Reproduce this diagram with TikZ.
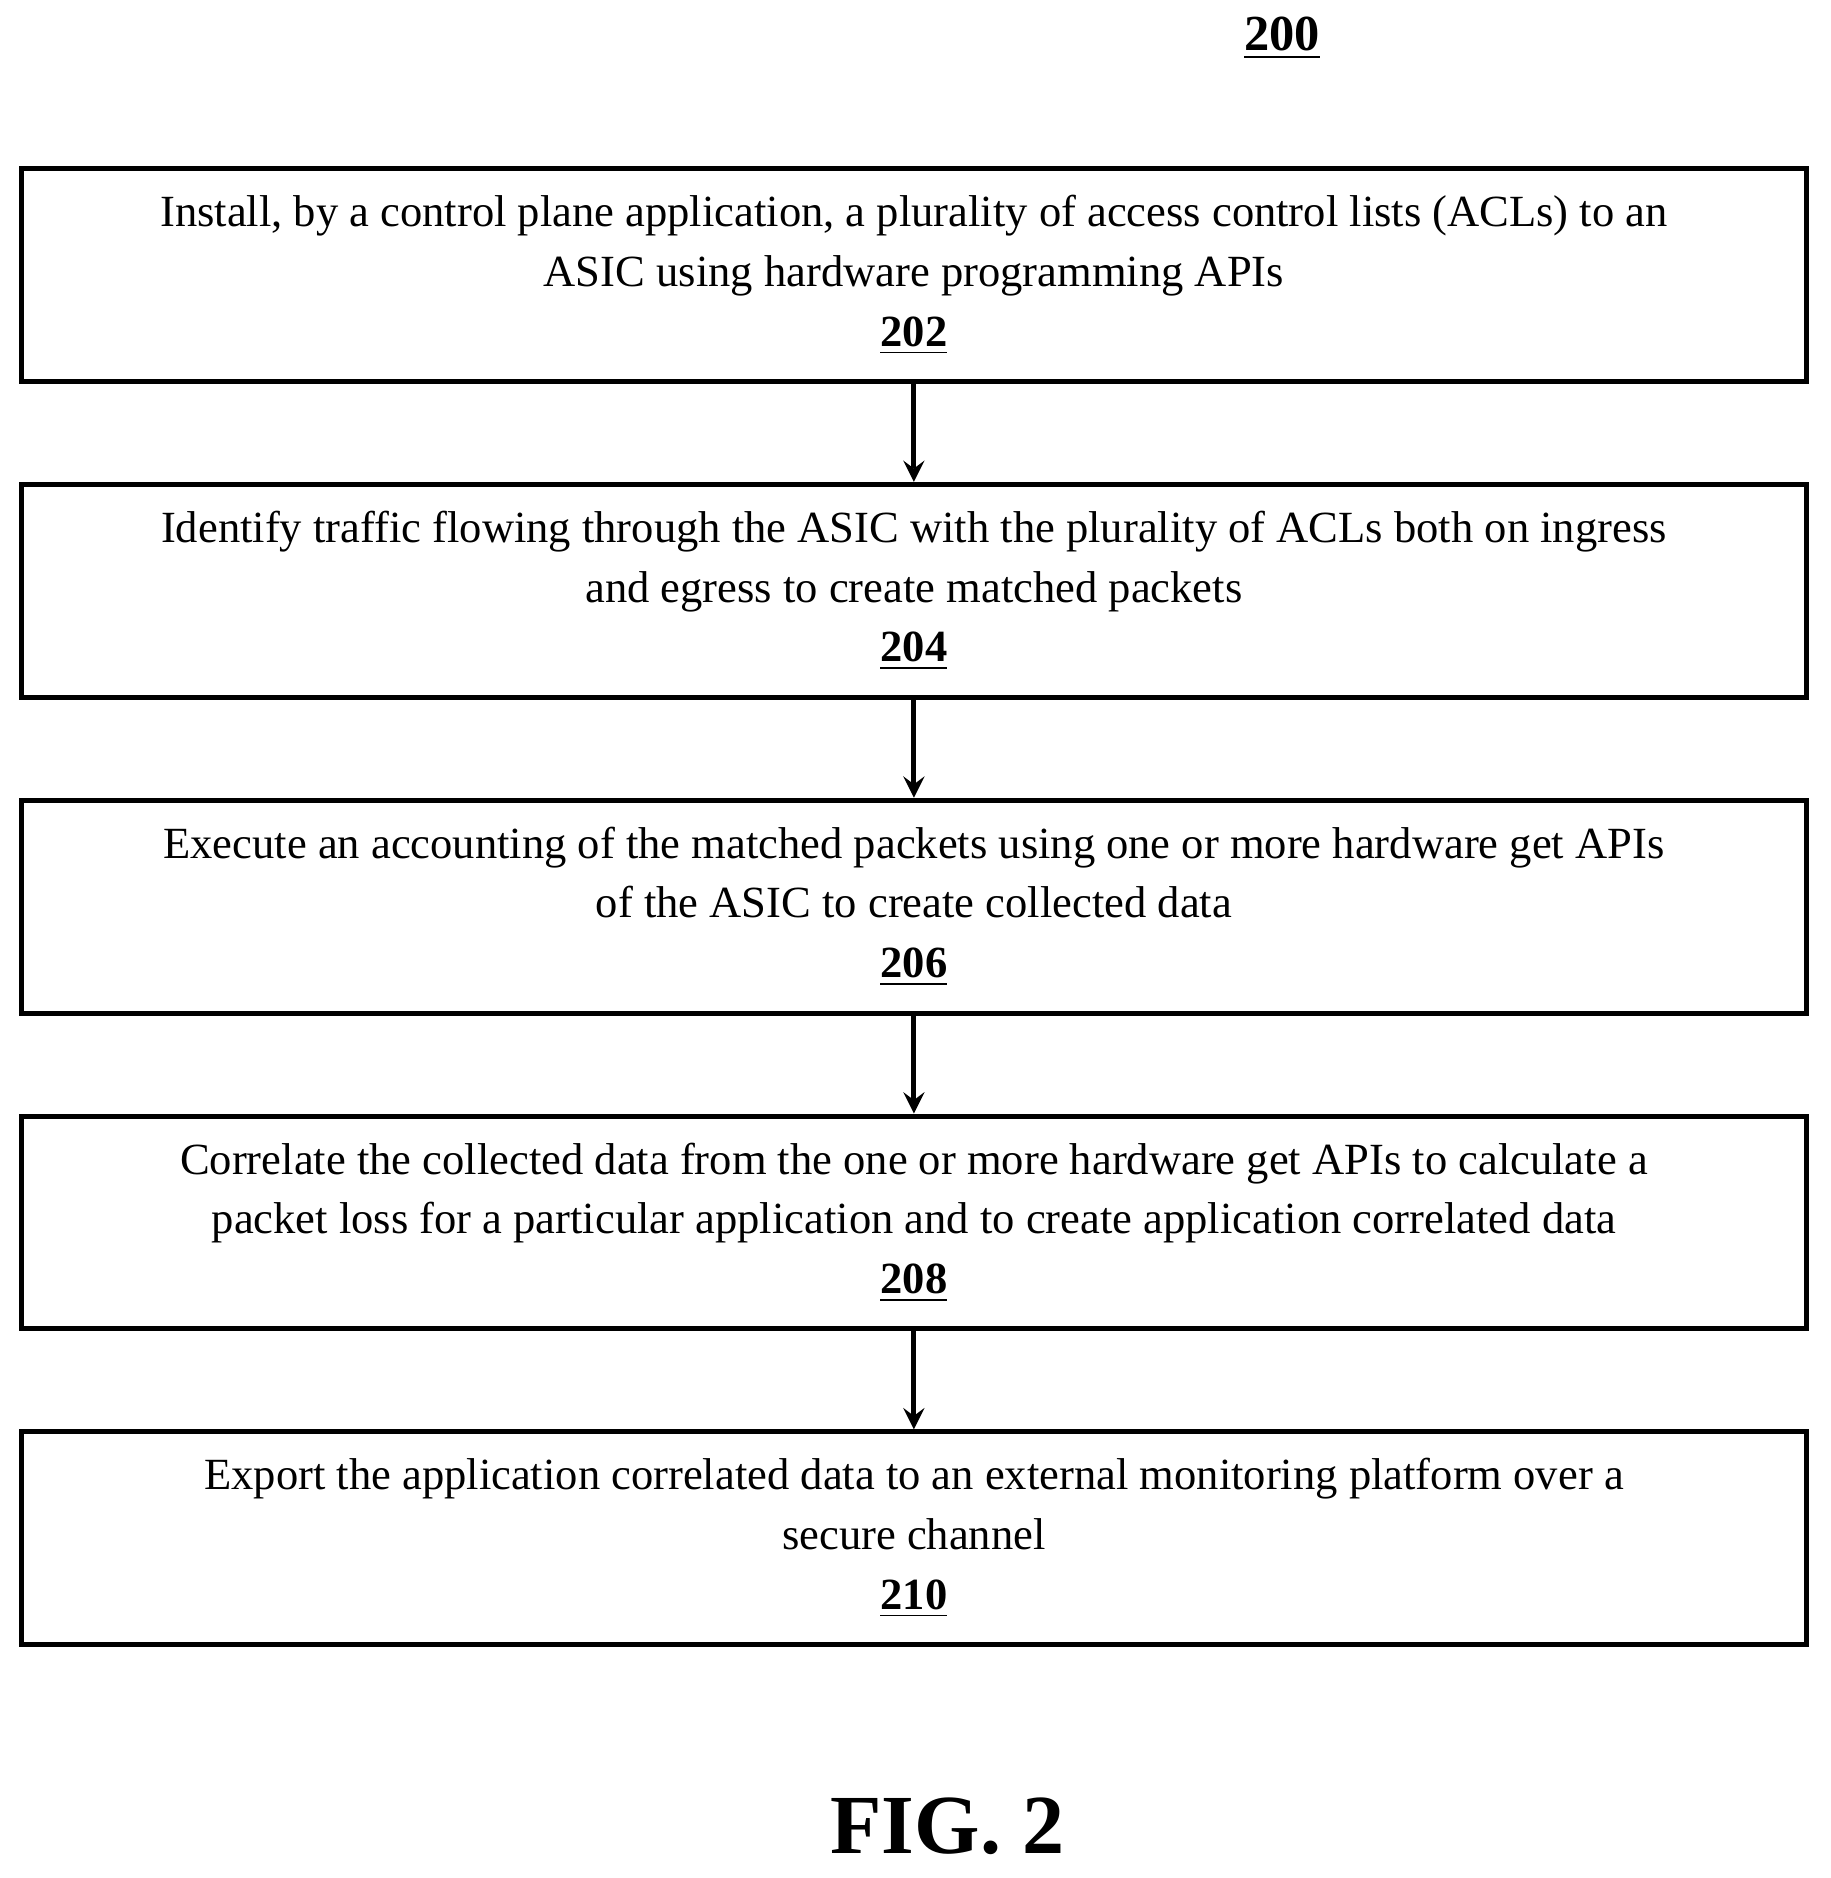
\documentclass[tikz,border=0pt]{standalone}
\usepackage{fontspec}
\setmainfont{Liberation Serif}
\usetikzlibrary{positioning}
\begin{document}
\begin{tikzpicture}[
    stepbox/.style={rectangle, draw, line width=1.2pt, align=center, minimum width=14.92cm, minimum height=1.78cm, font=\fontsize{10.6}{14.2}\selectfont, inner sep=0pt},
    arrow/.style={->, >=stealth, line width=1.2pt}
]
\useasboundingbox (0,0) rectangle (15.30,-15.70);

\node[font=\fontsize{12}{14}\selectfont\bfseries] (fig) at (10.72,-0.32) {\underline{200}};

\node[stepbox] (s202) at (7.64,-2.30) {Install, by a control plane application, a plurality of access control lists (ACLs) to an\\ASIC using hardware programming APIs\\\textbf{\underline{202}}};
\node[stepbox] (s204) at (7.64,-4.94) {Identify traffic flowing through the ASIC with the plurality of ACLs both on ingress\\and egress to create matched packets\\\textbf{\underline{204}}};
\node[stepbox] (s206) at (7.64,-7.58) {Execute an accounting of the matched packets using one or more hardware get APIs\\of the ASIC to create collected data\\\textbf{\underline{206}}};
\node[stepbox] (s208) at (7.64,-10.22) {Correlate the collected data from the one or more hardware get APIs to calculate a\\packet loss for a particular application and to create application correlated data\\\textbf{\underline{208}}};
\node[stepbox] (s210) at (7.64,-12.86) {Export the application correlated data to an external monitoring platform over a\\secure channel\\\textbf{\underline{210}}};

\draw[arrow] (s202) -- (s204);
\draw[arrow] (s204) -- (s206);
\draw[arrow] (s206) -- (s208);
\draw[arrow] (s208) -- (s210);

\node[font=\fontsize{20}{24}\selectfont\bfseries] (cap) at (7.92,-15.27) {FIG. 2};

\end{tikzpicture}
\end{document}
